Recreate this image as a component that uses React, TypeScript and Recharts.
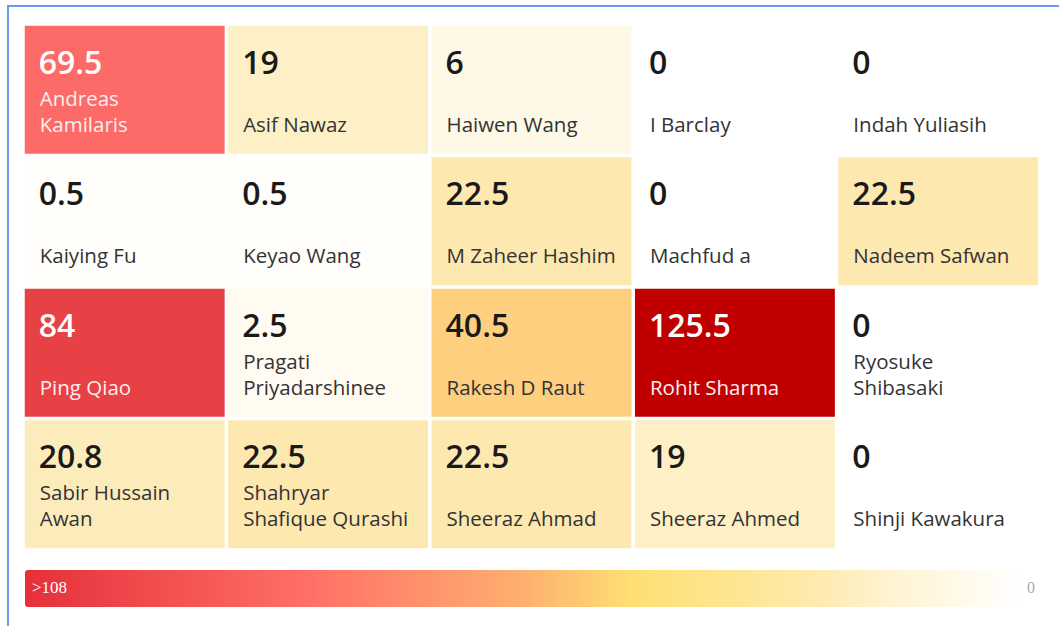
import { ScatterChart, Scatter, XAxis, YAxis, Legend } from "recharts";

const names = [
  "Andreas\nKamilaris", "Asif Nawaz", "Haiwen Wang", "I Barclay", "Indah Yuliasih",
  "Kaiying Fu", "Keyao Wang", "M Zaheer Hashim", "Machfud a", "Nadeem Safwan",
  "Ping Qiao", "Pragati\nPriyadarshinee", "Rakesh D Raut", "Rohit Sharma", "Ryosuke\nShibasaki",
  "Sabir Hussain\nAwan", "Shahryar\nShafique Qurashi", "Sheeraz Ahmad", "Sheeraz Ahmed", "Shinji Kawakura",
];
const values = [
  69.5, 19, 6, 0, 0,
  0.5, 0.5, 22.5, 0, 22.5,
  84, 2.5, 40.5, 125.5, 0,
  20.8, 22.5, 22.5, 19, 0,
];
const legendMaxLabel = ">108";
const legendMinLabel = "0";

const COLS = 5;
const ROWS = 4;
const W = 1050;
const H = 619;
const margin = { top: 17, right: 19, bottom: 76, left: 14 };
const plotW = W - margin.left - margin.right;
const plotH = H - margin.top - margin.bottom;
const GAP = 3.5;
const cellW = plotW / COLS - GAP;
const cellH = plotH / ROWS - GAP;

// colour ramp (value -> colour)
const stops: [number, string][] = [
  [0, "#ffffff"], [0.5, "#fffefb"], [2.5, "#fffbf1"], [6, "#fef8e6"],
  [19, "#fdf0c6"], [22.5, "#fde8b0"], [40.5, "#fdcf7e"], [69.5, "#fc6b68"],
  [84, "#e84145"], [125.5, "#c00000"],
];
const hex = (c: string) => [1, 3, 5].map((i) => parseInt(c.slice(i, i + 2), 16));
function colorFor(v: number) {
  for (let i = 1; i < stops.length; i++) {
    if (v <= stops[i][0]) {
      const [a, ca] = stops[i - 1];
      const [b, cb] = stops[i];
      const t = b === a ? 0 : (v - a) / (b - a);
      const x = hex(ca), y = hex(cb);
      return `rgb(${x.map((q, k) => Math.round(q + (y[k] - q) * t)).join(",")})`;
    }
  }
  return stops[stops.length - 1][1];
}

const data = values.map((v, i) => ({
  col: i % COLS,
  row: Math.floor(i / COLS),
  value: v,
  name: names[i],
}));

const font = "'Open Sans', sans-serif";

function CellShape(props: any) {
  const { cx, cy, payload } = props;
  const x = cx - cellW / 2;
  const y = cy - cellH / 2;
  const dark = payload.value > 60;
  const lines = String(payload.name).split("\n");
  return (
    <g>
      <rect x={x} y={y} width={cellW} height={cellH} fill={colorFor(payload.value)} />
      <text x={x + 14} y={y + 48} fontFamily={font} fontSize={32} fontWeight={600}
            fill={dark ? "#ffffff" : "#1a1a1a"}>
        {String(payload.value)}
      </text>
      {lines.map((l: string, k: number) => (
        <text key={k} x={x + 15} y={y + 106 - (lines.length - 1 - k) * 26}
              fontFamily={font} fontSize={20.5} fill={dark ? "#fdeeee" : "#333333"}>
          {l}
        </text>
      ))}
    </g>
  );
}

function GradientLegend() {
  return (
    <div style={{ position: "relative", width: 1020, height: 37 }}>
      <div style={{
        position: "absolute", left: 0, top: 0, width: 995, height: 37, borderRadius: 3,
        background: "linear-gradient(to right, #e5303a 0%, #ff6e67 28%, #fdb070 50%, #ffdf73 61%, #fee9a8 78%, #fff4d6 88%, #ffffff 100%)",
      }} />
      <span style={{ position: "absolute", left: 7, top: 8, color: "#fff", fontFamily: "'Liberation Serif', serif", fontSize: 17 }}>
        {legendMaxLabel}
      </span>
      <span style={{ position: "absolute", left: 1002, top: 9, color: "#aaa", fontFamily: "'Liberation Serif', serif", fontSize: 16 }}>
        {legendMinLabel}
      </span>
    </div>
  );
}

export default function App() {
  return (
    <div style={{ position: "absolute", left: 7, top: 5, borderTop: "2px solid #6b9be6", borderLeft: "2px solid #6b9be6", width: W, height: H, overflow: "hidden" }}>
      <ScatterChart width={W} height={H} margin={margin}>
        <XAxis type="number" dataKey="col" domain={[-0.5, COLS - 0.5]} hide />
        <YAxis type="number" dataKey="row" domain={[-0.5, ROWS - 0.5]} reversed hide />
        <Legend content={<GradientLegend />}
                wrapperStyle={{ position: "absolute", left: 16, top: 563, height: 0, width: 1030, overflow: "visible" }} />
        <Scatter data={data} shape={<CellShape />} isAnimationActive={false} />
      </ScatterChart>
    </div>
  );
}
